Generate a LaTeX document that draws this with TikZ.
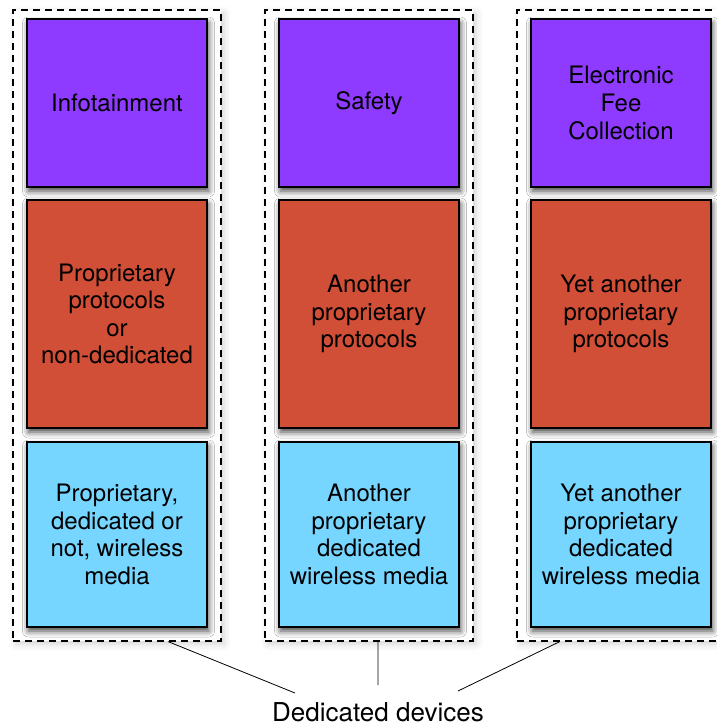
\documentclass[tikz,border=0pt]{standalone}
\usepackage{fontspec}
\setmainfont{TeX Gyre Heros}
\usetikzlibrary{positioning,calc,fit,backgrounds,shadows.blur}

\definecolor{appcol}{RGB}{143,59,255}
\definecolor{protocol}{RGB}{209,78,55}
\definecolor{media}{RGB}{118,214,255}

\tikzset{
	layer/.style={draw=black, line width=1.3pt, minimum width=180pt, inner sep=0pt, outer sep=0pt, align=center,
		font=\fontsize{24}{27.6}\selectfont,
		blur shadow={shadow xshift=1.5pt, shadow yshift=-4pt, shadow blur radius=6pt, shadow opacity=75}},
	frame/.style={draw, line width=1.3pt, dash pattern=on 7pt off 5pt, fill=white, inner xsep=14pt, inner ysep=11.5pt, yshift=-2.5pt,
		blur shadow={shadow xshift=3pt, shadow yshift=-3pt, shadow blur radius=7pt, shadow opacity=18}},
	link/.style={line width=0.8pt}
}

\begin{document}
\begin{tikzpicture}[x=1pt,y=-1pt]
		\useasboundingbox (0,0) rectangle (716,724);
		
		%applications
		\node (app1) [layer, fill=appcol, minimum height=168pt] at (117,103) {Infotainment};
		\node (app2) [layer, fill=appcol, minimum height=168pt, right = 72pt of app1] {Safety};
		\node (app3) [layer, fill=appcol, minimum height=168pt, right = 72pt of app2] {Electronic\\Fee\\Collection};
		
		%protocols
		\node (prot1) [layer, fill=protocol, minimum height=228pt, below = 13pt of app1] {Proprietary\\protocols\\or\\non-dedicated};
		\node (prot2) [layer, fill=protocol, minimum height=228pt, below = 13pt of app2] {Another\\proprietary\\protocols};
		\node (prot3) [layer, fill=protocol, minimum height=228pt, below = 13pt of app3] {Yet another\\proprietary\\protocols};
		
		%media
		\node (med1) [layer, fill=media, minimum height=185pt, below = 14pt of prot1] {Proprietary,\\dedicated or\\not, wireless\\media};
		\node (med2) [layer, fill=media, minimum height=185pt, below = 14pt of prot2] {Another\\proprietary\\dedicated\\wireless media};
		\node (med3) [layer, fill=media, minimum height=185pt, below = 14pt of prot3] {Yet another\\proprietary\\dedicated\\wireless media};
		
		%devices
		\begin{scope}[on background layer]
		\node (dev1) [frame, fit=(app1)(med1)] {};
		\node (dev2) [frame, fit=(app2)(med2)] {};
		\node (dev3) [frame, fit=(app3)(med3)] {};
		\end{scope}
		
		\node (label) [font=\fontsize{26}{30}\selectfont, inner sep=0pt, text depth=0pt, anchor=base] at (378,721) {Dedicated devices};
		\coordinate (end1) at (295,693);
		\coordinate (end2) at (378,685);
		\coordinate (end3) at (458,691);
		\draw[link] ($(dev1.south west)!0.745!(dev1.south east)$) -- (end1);
		\draw[link] ($(dev2.south west)!0.543!(dev2.south east)$) -- (end2);
		\draw[link] ($(dev3.south west)!0.207!(dev3.south east)$) -- (end3);
\end{tikzpicture}
\end{document}
